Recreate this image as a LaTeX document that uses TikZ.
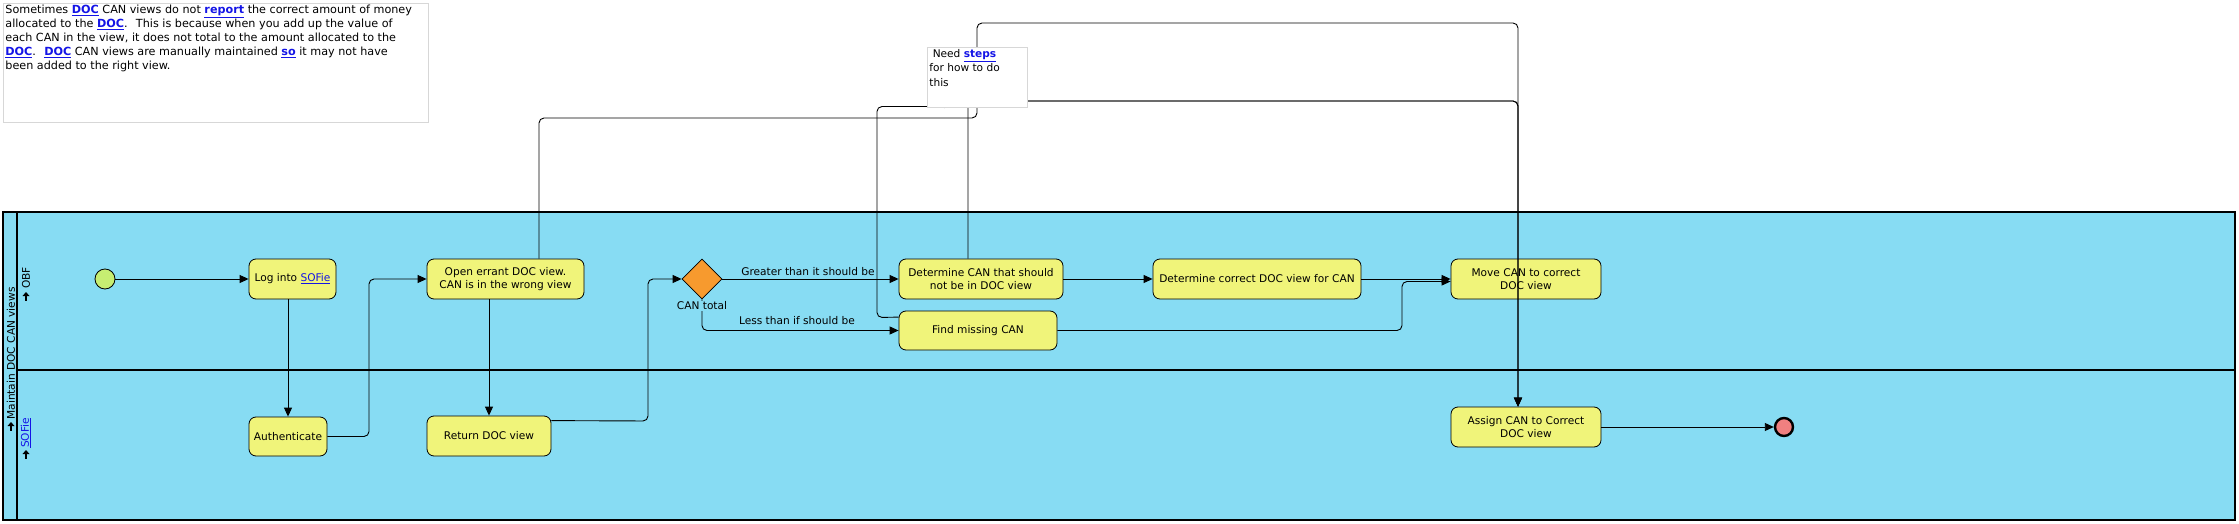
\documentclass[tikz,border=0pt]{standalone}
\usepackage{fontspec}
\setmainfont{DejaVu Sans}
\usetikzlibrary{arrows.meta,shapes.geometric,calc}
\definecolor{poolblue}{RGB}{135,220,243}
\definecolor{taskyellow}{RGB}{240,244,122}
\definecolor{gworange}{RGB}{247,154,46}
\definecolor{startgreen}{RGB}{198,238,114}
\definecolor{endred}{RGB}{240,128,128}
\definecolor{linkblue}{RGB}{20,20,230}
\definecolor{notegray}{RGB}{215,215,215}
\newcommand{\lnk}[1]{\textcolor{linkblue}{\underline{#1}}}
\newcommand{\blnk}[1]{\textcolor{linkblue}{\underline{\textbf{#1}}}}
\tikzset{
  lbl/.style={font=\fontsize{10.6}{13.7}\selectfont, inner sep=1pt, align=center},
  task/.style={draw=black, line width=0.8pt, fill=taskyellow, rounded corners=7pt,
    align=center, inner sep=0pt, font=\fontsize{10.6}{13.7}\selectfont},
  conn/.style={draw=black, line width=0.9pt, rounded corners=5pt},
  arr/.style={conn, -{Triangle[length=9pt,width=8pt]}},
  notebox/.style={draw=notegray, line width=0.8pt, fill=white, inner sep=2pt, anchor=north west},
  upicon/.pic={\fill (-3.5,-1)--(0,-5)--(3.5,-1)--cycle; \fill (-1.2,-1.5) rectangle (1.2,4);}
}
\begin{document}
\begin{tikzpicture}[x=1pt,y=-1pt]
\useasboundingbox (0,0) rectangle (2239,524);
% pool
\draw[fill=poolblue, line width=1.2pt] (3,212) rectangle (2235,520);
\draw[line width=2.2pt] (17,212) -- (17,520);
\draw[line width=1.1pt] (17,370) -- (2235,370);
\node[lbl, rotate=90] (poolname) at (11,353.5) {Maintain DOC CAN views};
\pic at (11,427) {upicon};
\node[lbl, rotate=90] (laneobf) at (26,278) {OBF};
\pic at (26,297) {upicon};
\node[lbl, rotate=90] (lanesofie) at (26,433) {\lnk{SOFie}};
\pic at (26,455) {upicon};

% nodes
\node[circle, draw, fill=startgreen, minimum size=20pt, inner sep=0pt, line width=0.8pt] (start) at (105,279) {};
\node[task, minimum width=87pt, minimum height=40pt] (login) at (292.5,279) {Log into \lnk{SOFie}};
\node[task, minimum width=78pt, minimum height=39pt] (auth) at (288,436.5) {Authenticate};
\node[task, minimum width=157pt, minimum height=40pt] (open) at (505.5,279) {Open errant DOC view.\\CAN is in the wrong view};
\node[task, minimum width=124pt, minimum height=40pt] (ret) at (489,436) {Return DOC view};
\node[diamond, draw, line width=0.8pt, fill=gworange, minimum width=40pt, minimum height=40pt, inner sep=0pt] (gw) at (702,279) {};
\node[task, minimum width=164pt, minimum height=40pt] (detcan) at (981,279) {Determine CAN that should\\not be in DOC view};
\node[task, minimum width=158pt, minimum height=39pt] (findm) at (978,330.5) {Find missing CAN};
\node[task, minimum width=208pt, minimum height=40pt] (detcor) at (1257,279) {Determine correct DOC view for CAN};
\node[task, minimum width=150pt, minimum height=40pt] (move) at (1526,279) {Move CAN to correct\\DOC view};
\node[task, minimum width=150pt, minimum height=40pt] (assign) at (1526,427) {Assign CAN to Correct\\DOC view};
\node[circle, draw, fill=endred, minimum size=18pt, inner sep=0pt, line width=2.4pt] (end) at (1784,427) {};

% connectors
\draw[arr] (start) -- (login);
\draw[arr] (login.south -| auth.north) -- (auth.north);
\draw[arr] (auth.east) -- (369,436.5) -- (369,279) -- (open.west);
\draw[arr] (open.south -| ret.north) -- (ret.north);
\draw[arr] ([yshift=-5pt]ret.north east) -- (648,421) -- (648,279) -- (gw.west);
\draw[arr] (gw.east) -- (detcan.west);
\draw[arr] (gw.south) -- (702,330.5) -- (findm.west);
\node[lbl, fill=poolblue] (gwlabel) at (702,306) {CAN total};
\node[lbl] (gtlabel) at (808,272) {Greater than it should be};
\node[lbl] (ltlabel) at (797,321) {Less than if should be};
\draw[arr] (detcan) -- (detcor);
\draw[arr] (detcor) -- (move);
\draw[arr] (findm.east) -- (1402,330.5) -- (1402,281.5) -- ([yshift=-2.5pt]move.west);
\draw[arr] (assign) -- (end);
% long connectors through the top
\draw[arr] ([xshift=33.5pt]open.north) -- (539,118) -- (977,118) -- (977,23) -- (1518,23) -- ([xshift=-8pt]assign.north);
\draw[arr] ([xshift=-13pt]detcan.north) -- (968,101) -- (1518,101) -- ([xshift=-8pt]assign.north);
\draw[arr] ([yshift=-6.5pt]findm.north west) -- (877,317.5) -- (877,106.5) -- (945,106.5) -- (945,101) -- (1518,101) -- ([xshift=-8pt]assign.north);

% notes
\node[notebox] (note1) at (3,3) {\parbox[t][115pt][t]{421pt}{\fontsize{11.2}{13.9}\selectfont\raggedright
Sometimes \blnk{DOC} CAN views do not \blnk{report} the correct amount of money\\
allocated to the \blnk{DOC}.~ This is because when you add up the value of\\
each CAN in the view, it does not total to the amount allocated to the\\
\blnk{DOC}.~ \blnk{DOC} CAN views are manually maintained \blnk{so} it may not have\\
been added to the right view.}};
\node[notebox] (note2) at (927,47) {\parbox[t][56pt][t]{96pt}{\fontsize{10.6}{14.3}\selectfont\raggedright
\ Need \blnk{steps}\\
for how to do\\
this}};
\end{tikzpicture}
\end{document}
